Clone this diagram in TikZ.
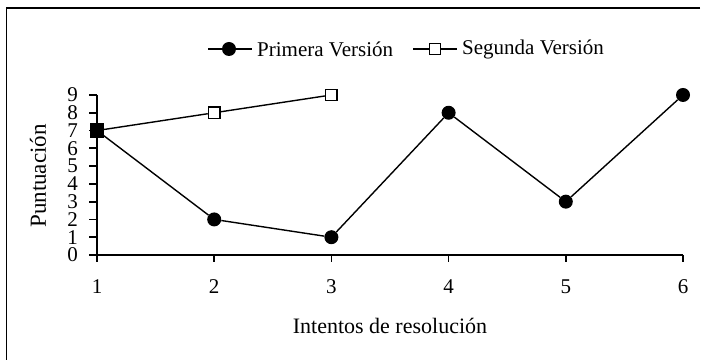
\documentclass[tikz,border=0pt]{standalone}
\usepackage{fontspec}
\setmainfont{Liberation Serif}
\usetikzlibrary{positioning}

\begin{document}
\begin{tikzpicture}[
  x=117.2pt,y=17.78pt,
  every node/.style={font=\fontsize{22}{24}\selectfont},
  axis/.style={line width=1.7pt},
  serie/.style={line width=1.4pt},
  dot/.style={circle,fill=black,inner sep=0pt,minimum size=14pt},
  box/.style={rectangle,draw=black,fill=white,line width=1.4pt,inner sep=0pt,minimum size=11.5pt},
  ticklabel/.style={inner sep=0pt,font=\fontsize{21}{22}\selectfont},
  legtext/.style={inner sep=0pt,font=\fontsize{21}{22}\selectfont}]
  \useasboundingbox (-97pt,-106pt) rectangle (604pt,255pt);
  % frame (only top and left edge visible)
  \draw[line width=1.8pt] (603pt,247pt) -| (-90.5pt,-105pt);
  % axes
  \draw[axis] (0,9) -- (0,0) -- (5,0);
  \foreach \v in {0,...,9} {
    \draw[axis] ([xshift=-8pt]0,\v) -- (0,\v);
    \node[ticklabel,anchor=east] (y\v) at ([xshift=-19pt]0,\v) {\v};
  }
  \foreach \n [count=\i from 0] in {1,...,6} {
    \draw[axis] (\i,0) -- ([yshift=-7pt]\i,0);
    \node[ticklabel] (x\n) at ([yshift=-32pt]\i,0) {\n};
  }
  \node (xtitle) at (293pt,-71pt) {Intentos de resoluci\'on};
  \node[rotate=90,font=\fontsize{23}{24}\selectfont] (ytitle) at (-59pt,79pt) {Puntuaci\'on};
  % segunda version
  \node[box,fill=black,minimum size=13pt] (s0) at (0,7) {};
  \node[box] (s1) at (1,8) {};
  \node[box] (s2) at (2,9) {};
  \draw[serie] (s0) -- (s1) -- (s2);
  % primera version
  \foreach \v [count=\i from 0] in {7,2,1,8,3,9}
    \node[dot] (p\i) at (\i,\v) {};
  \draw[serie] (p0) -- (p1) -- (p2) -- (p3) -- (p4) -- (p5);
  % legend
  \node[dot] (leg1) at (132pt,206pt) {};
  \coordinate (leg1w) at (111pt,206pt);
  \coordinate (leg1e) at (155pt,206pt);
  \draw[serie] (leg1w) -- (leg1) -- (leg1e);
  \node[legtext,right=5pt of leg1e] (leg1t) {Primera Versi\'on};
  \node[box] (leg2) at (338pt,206pt) {};
  \coordinate (leg2w) at (316pt,206pt);
  \coordinate (leg2e) at (360pt,206pt);
  \draw[serie] (leg2w) -- (leg2) -- (leg2e);
  \node[legtext,right=5pt of leg2e] (leg2t) {Segunda Versi\'on};
\end{tikzpicture}
\end{document}
